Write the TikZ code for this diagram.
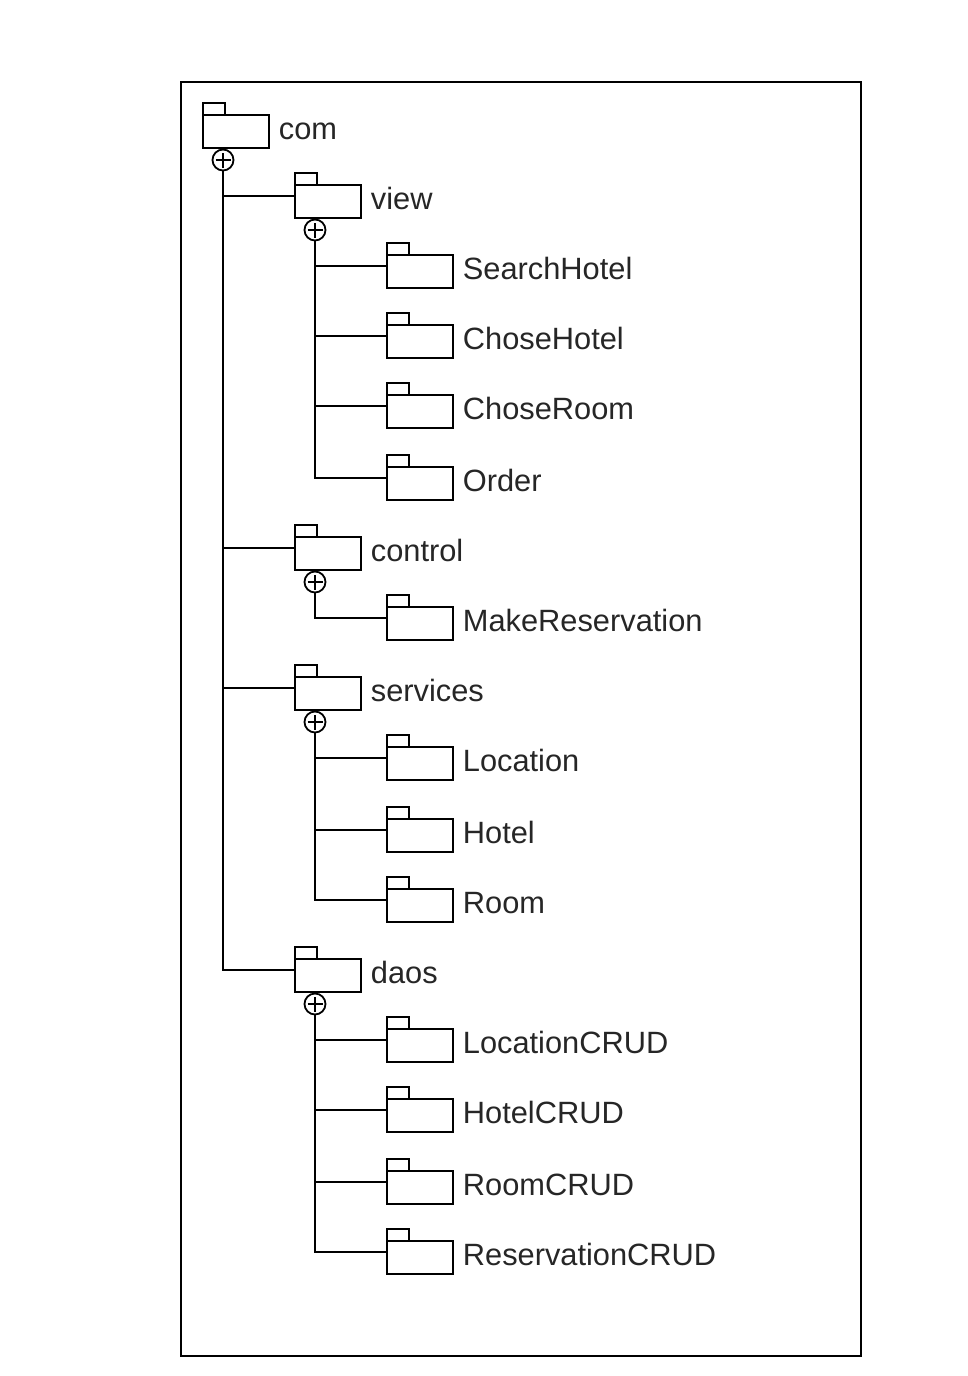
\documentclass[tikz,border=0pt]{standalone}
\usepackage{fontspec}
\setmainfont{Liberation Sans}
\usetikzlibrary{calc}
\newcommand\pkgnode[4]{%
  \node[pkgbody] (#1) at ({203+92*#2},#3) {};
  \draw (#1.north west) rectangle ++(22,-12);
  \node[pkglabel] (#1-l) at ({278+92*#2},{#3+24}) {#4};
  \coordinate (#1-in) at ({203+92*#2},{#3+11});
}
\newcommand\pkgplus[3]{%
  \node[plusmark] (#1-p) at ({223+92*#2},{#3+45}) {};
}
\begin{document}
\begin{tikzpicture}[x=1pt,y=-1pt,line width=1.8pt,
  pkgbody/.style={draw, rectangle, minimum width=66pt, minimum height=33pt, inner sep=0pt, outer sep=0pt, anchor=north west},
  pkglabel/.style={anchor=base west, inner sep=0pt, font=\fontsize{30.8}{36}\selectfont, text=black!85},
  plusmark/.style={draw, circle, minimum size=21pt, inner sep=0pt, outer sep=0pt,
    path picture={\draw[line width=1.5pt]
      ([xshift=-7.5pt]path picture bounding box.center) -- ([xshift=7.5pt]path picture bounding box.center)
      ([yshift=-7.5pt]path picture bounding box.center) -- ([yshift=7.5pt]path picture bounding box.center);}},
  conn/.style={line width=1.8pt}]
\useasboundingbox (0,0) rectangle (968,1376);
\draw[line width=2pt] (181,82) rectangle (861,1356);

\pkgnode{com}{0}{115}{com}
\pkgplus{com}{0}{115}
\pkgnode{view}{1}{185}{view}
\pkgplus{view}{1}{185}
\pkgnode{sh}{2}{255}{SearchHotel}
\pkgnode{ch}{2}{325}{ChoseHotel}
\pkgnode{cr}{2}{395}{ChoseRoom}
\pkgnode{order}{2}{467}{Order}
\pkgnode{control}{1}{537}{control}
\pkgplus{control}{1}{537}
\pkgnode{mr}{2}{607}{MakeReservation}
\pkgnode{services}{1}{677}{services}
\pkgplus{services}{1}{677}
\pkgnode{loc}{2}{747}{Location}
\pkgnode{hotel}{2}{819}{Hotel}
\pkgnode{room}{2}{889}{Room}
\pkgnode{daos}{1}{959}{daos}
\pkgplus{daos}{1}{959}
\pkgnode{lcrud}{2}{1029}{LocationCRUD}
\pkgnode{hcrud}{2}{1099}{HotelCRUD}
\pkgnode{rcrud}{2}{1171}{RoomCRUD}
\pkgnode{rescrud}{2}{1241}{ReservationCRUD}

% com children
\draw[conn] (com-p.south) |- (daos-in);
\draw[conn] (com-p.south |- view-in) -- (view-in);
\draw[conn] (com-p.south |- control-in) -- (control-in);
\draw[conn] (com-p.south |- services-in) -- (services-in);
% view children
\draw[conn] (view-p.south) |- (order-in);
\draw[conn] (view-p.south |- sh-in) -- (sh-in);
\draw[conn] (view-p.south |- ch-in) -- (ch-in);
\draw[conn] (view-p.south |- cr-in) -- (cr-in);
% control children
\draw[conn] (control-p.south) |- (mr-in);
% services children
\draw[conn] (services-p.south) |- (room-in);
\draw[conn] (services-p.south |- loc-in) -- (loc-in);
\draw[conn] (services-p.south |- hotel-in) -- (hotel-in);
% daos children
\draw[conn] (daos-p.south) |- (rescrud-in);
\draw[conn] (daos-p.south |- lcrud-in) -- (lcrud-in);
\draw[conn] (daos-p.south |- hcrud-in) -- (hcrud-in);
\draw[conn] (daos-p.south |- rcrud-in) -- (rcrud-in);
\end{tikzpicture}
\end{document}
